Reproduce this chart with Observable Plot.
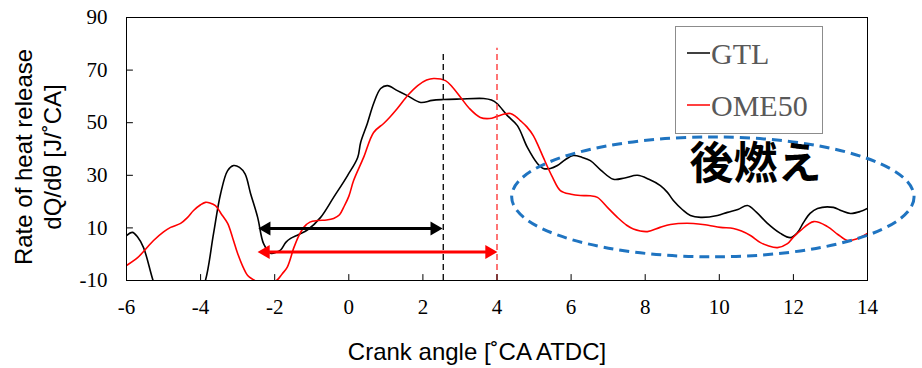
<!DOCTYPE html>
<html>
<head>
<meta charset="utf-8">
<script src="https://cdn.jsdelivr.net/npm/d3@7"></script>
<script src="https://cdn.jsdelivr.net/npm/@observablehq/plot@0.6"></script>
<style>
  body { margin: 0; background: #fff; }
  #wrap { position: relative; width: 922px; height: 368px; }
  #legend { position: absolute; left: 675px; top: 26px; width: 146px; height: 106px;
            border: 1px solid #8c8c8c; background: #fff; }
</style>
</head>
<body>
<div id="wrap"><div id="chart"></div><div id="legend"></div></div>
<script>
// ---- data ----
const xTicks = [-6, -4, -2, 0, 2, 4, 6, 8, 10, 12, 14];
const yTicks = [-10, 10, 30, 50, 70, 90];
const xDomain = [-6, 14];
const yDomain = [-10, 90];
const xLabel = "Crank angle [˚CA ATDC]";
const yLabel = "Rate of heat release\ndQ/dθ [J/˚CA]";

const seriesNames = ["GTL", "OME50"];
const seriesColors = ["#000000", "#ff0000"];

const gtlX = [-6.00,-5.84,-5.70,-5.54,-5.30,-5.10,-4.60,-4.10,-3.87,-3.65,-3.46,-3.27,-3.11,-2.95,-2.80,-2.65,-2.46,-2.30,-2.11,-1.95,-1.84,-1.70,-1.57,-1.35,-1.11,-0.76,-0.41,-0.03,0.24,0.32,0.50,0.67,0.86,1.04,1.31,1.58,1.94,2.25,2.56,3.00,3.64,3.85,4.00,4.28,4.55,4.82,5.09,5.25,5.44,5.63,5.85,6.06,6.30,6.52,6.80,7.14,7.45,7.79,8.10,8.41,8.60,8.76,9.00,9.22,9.50,9.95,10.22,10.50,10.76,11.00,11.30,11.65,11.92,12.10,12.27,12.45,12.65,13.08,13.30,13.54,13.80,14.00];
const gtlY = [7.1,8.3,6.5,2.5,-9.2,-18,-26,-18,-10,7.9,23,31.8,33.7,33.0,30.5,23,14,4,0.4,0.8,1.6,4.5,6,7.5,9.3,14,21.6,30,36.8,42.5,49.7,57.3,63,64.1,62.2,60.3,57.7,58.5,58.8,59.0,59.2,58.6,57.3,52.7,48.9,40.6,34.5,32.6,32.6,33.7,36.0,37.5,36.8,35.6,32.0,28.5,29.0,30.0,28.5,26.1,23.5,20.4,17.0,14.7,14.0,14.7,15.9,17.0,18.5,16.0,11.7,7.9,6.3,8.0,12.0,15.5,17.4,17.8,16.5,15.5,16.2,17.4];

const omeX = [-6.00,-5.70,-5.54,-5.27,-5.00,-4.81,-4.54,-4.35,-4.19,-4.00,-3.87,-3.75,-3.60,-3.45,-3.27,-3.13,-3.00,-2.85,-2.73,-2.60,-2.45,-2.20,-1.95,-1.80,-1.66,-1.48,-1.35,-1.21,-1.05,-0.84,-0.60,-0.41,-0.25,-0.14,0.00,0.13,0.40,0.67,0.94,1.10,1.31,1.60,1.86,2.10,2.29,2.61,2.80,3.02,3.25,3.55,3.80,4.00,4.20,4.36,4.50,4.63,4.80,4.98,5.12,5.25,5.50,5.71,6.00,6.25,6.52,6.71,7.00,7.25,7.50,7.68,8.06,8.40,8.68,9.30,9.70,10.03,10.38,10.60,10.84,11.10,11.30,11.57,11.84,12.00,12.19,12.55,12.92,13.20,13.46,13.70,14.00];
const omeY = [-4.3,-1.3,1.0,5.2,8.5,10.2,11.7,14.0,16.6,18.8,19.7,19.5,18.5,15.5,11.7,6.0,0.3,-5,-8.1,-9.5,-10.5,-11,-10,-7.5,-4.9,2.6,7.0,10.3,12.2,12.8,13.0,13.6,15.0,17.8,22.0,28,36.8,46.3,49.7,52.0,55.4,60.5,64.1,66.2,66.8,66.0,63.5,59.6,55.5,52.0,51.6,52.4,53.3,53.5,52.4,50.8,48.5,45.1,41.0,36.8,29.2,24.2,22.8,22.3,22.2,21.6,17.5,14.0,11.0,9.6,8.6,10.2,11.3,11.7,11.0,10.2,9.8,8.8,7.1,4.5,3.3,2.5,4.0,6.5,9.0,12.4,10.5,7.5,5.2,5.8,7.9];

// annotations
const markerX = [2.55, 4.0];
const markerTop = [77.5, 78.3];
const markerColors = ["#111111", "#ff3b3b"];
const spanStart = [-2.44, -2.46];
const spanEnd = [2.53, 4.01];
const spanY = [9.8, 0.85];
const spanColors = ["#000000", "#ff0000"];
const noteText = "後燃え";
const noteX = 10.98, noteY = 34.1;
const ellCx = 9.84, ellCy = 21.6, ellRx = 5.43, ellRy = 22.8;

// ---- tables ----
const gtl = gtlX.map((x, i) => ({x, y: gtlY[i]}));
const ome = omeX.map((x, i) => ({x, y: omeY[i]}));
const markers = markerX.map((x, i) => ({x, top: markerTop[i], color: markerColors[i]}));
const spans = spanStart.map((x1, i) => ({x1, x2: spanEnd[i], y: spanY[i], color: spanColors[i]}));

const tickShape = {draw(context, l) { context.moveTo(0, 0); context.lineTo(0, -l); }};
const serif = "Liberation Serif, Times New Roman, serif";
const sans = "Liberation Sans, Arial, sans-serif";

const ellipseMark = (index, scales) => {
  const {x, y} = scales;
  const cx = x(ellCx), cy = y(ellCy);
  return d3.create("svg:ellipse")
    .attr("cx", cx).attr("cy", cy)
    .attr("rx", x(ellCx + ellRx) - cx).attr("ry", cy - y(ellCy + ellRy))
    .attr("fill", "none").attr("stroke", "#1f74c1")
    .attr("stroke-width", 3).attr("stroke-dasharray", "10,6")
    .node();
};

const chart = Plot.plot({
  width: 922, height: 368,
  marginLeft: 126, marginRight: 55, marginTop: 17, marginBottom: 88,
  style: {color: "#000", background: "#fff"},
  x: {domain: xDomain, axis: null},
  y: {domain: yDomain, axis: null},
  marks: [
    Plot.line(gtl, {x: "x", y: "y", stroke: seriesColors[0], strokeWidth: 1.6, curve: "catmull-rom", clip: true}),
    Plot.line(ome, {x: "x", y: "y", stroke: seriesColors[1], strokeWidth: 1.6, curve: "catmull-rom", clip: true}),
    Plot.ruleX(markers, {x: "x", y1: yDomain[0], y2: "top", stroke: "color", strokeWidth: 1.4, strokeDasharray: "6,4"}),
    Plot.ruleY(spans, {x1: "x1", x2: "x2", y: "y", stroke: "color", strokeWidth: 3, insetLeft: 8, insetRight: 8}),
    Plot.dot(spans, {x: "x1", y: "y", symbol: "triangle", r: 5.2, rotate: -90, fill: "color", stroke: null, dx: 8}),
    Plot.dot(spans, {x: "x2", y: "y", symbol: "triangle", r: 5.2, rotate: 90, fill: "color", stroke: null, dx: -8}),
    Plot.frame({stroke: "#000", strokeWidth: 1}),
    Plot.vector(xTicks, {x: d => d, y: yDomain[0], length: 6, rotate: 0, anchor: "start", shape: tickShape, stroke: "#000", strokeWidth: 1}),
    Plot.vector(yTicks, {x: xDomain[0], y: d => d, length: 6, rotate: 90, anchor: "start", shape: tickShape, stroke: "#000", strokeWidth: 1}),
    Plot.text(xTicks, {x: d => d, y: yDomain[0], text: d => String(d), dy: 27, lineAnchor: "middle",
      fontFamily: serif, fontSize: 21, fill: "#000"}),
    Plot.text(yTicks, {x: xDomain[0], y: d => d, text: d => String(d), dx: -19, textAnchor: "end", lineAnchor: "middle",
      fontFamily: serif, fontSize: 21, fill: "#000"}),
    Plot.text([yLabel], {frameAnchor: "left", rotate: -90, dx: -89, dy: 8, fontSize: 24,
      fontFamily: sans, lineAnchor: "middle", textAnchor: "middle", lineHeight: 1.2}),
    Plot.text([xLabel], {frameAnchor: "bottom", dx: -20, dy: 72, fontSize: 24,
      fontFamily: sans, lineAnchor: "middle"}),
    ellipseMark,
    Plot.text([noteText], {x: noteX, y: noteY, fontSize: 44, fontWeight: "bold",
      fontFamily: "Noto Sans CJK JP, sans-serif", fill: "#000"})
  ]
});
document.getElementById("chart").appendChild(chart);

// legend
const lg = d3.select("#legend").append("svg").attr("width", 146).attr("height", 106)
  .style("font-family", serif);
seriesNames.forEach((name, i) => {
  const base = 37 + i * 52;
  lg.append("line").attr("x1", 11).attr("x2", 34).attr("y1", base - 11).attr("y2", base - 11)
    .attr("stroke", seriesColors[i]).attr("stroke-width", 1.5);
  lg.append("text").attr("x", 35).attr("y", base).attr("font-size", 30).attr("fill", "#595959").text(name);
});
</script>
</body>
</html>
